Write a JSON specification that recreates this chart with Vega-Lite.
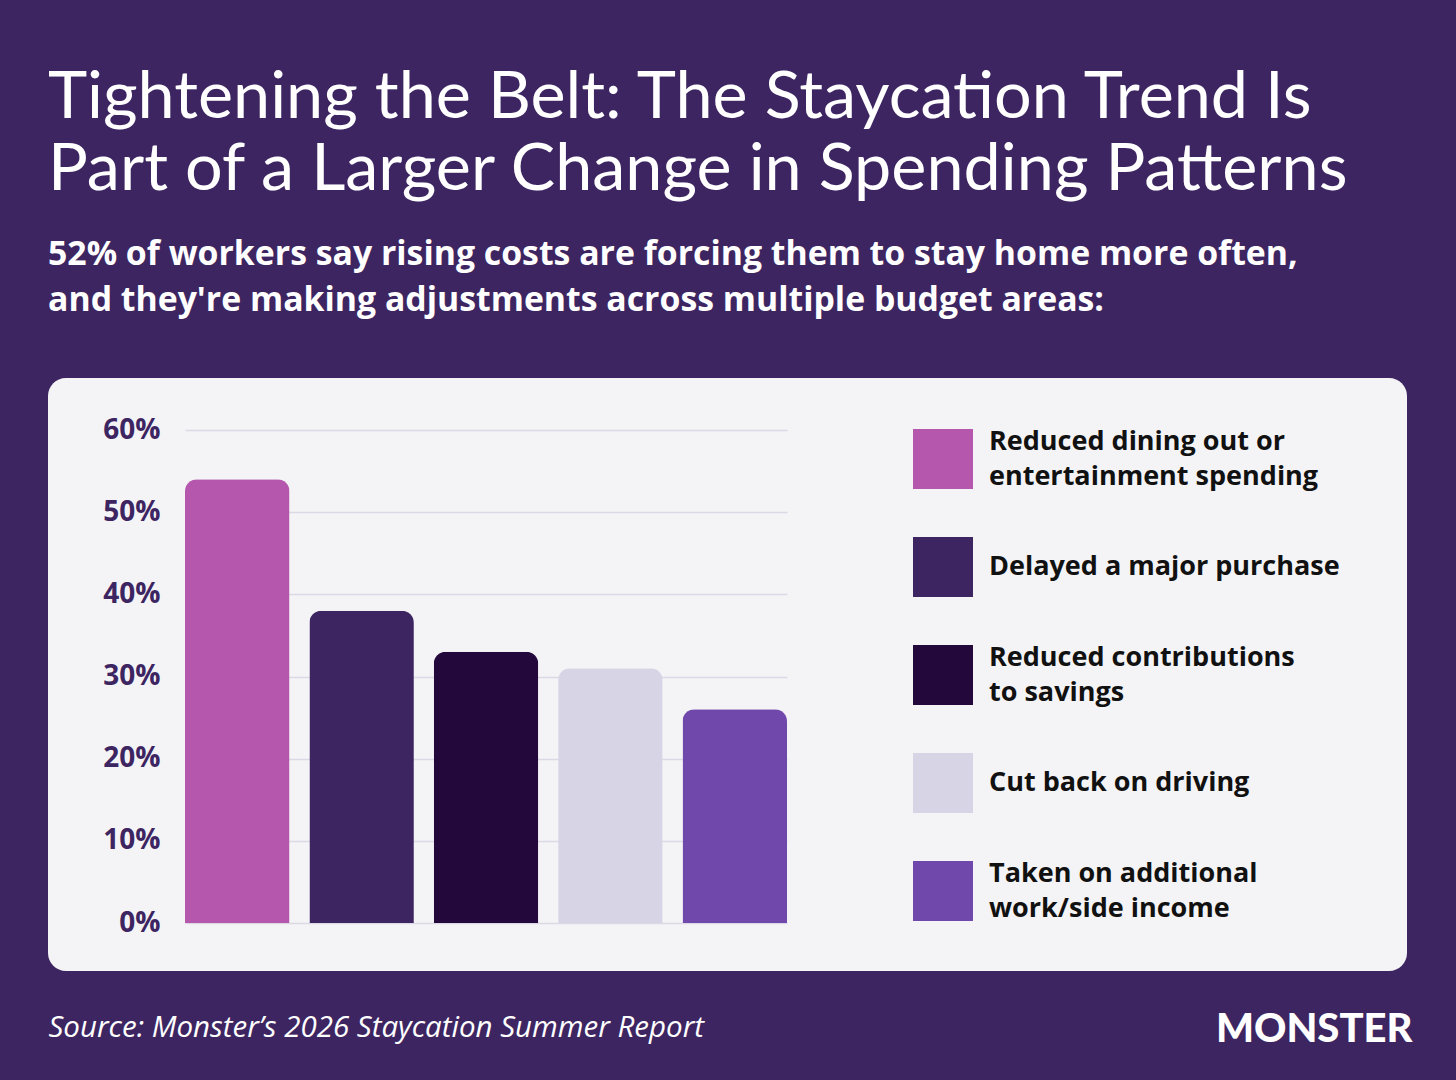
{
  "$schema": "https://vega.github.io/schema/vega-lite/v6.json",
  "width": 1359,
  "height": 593,
  "autosize": {"type": "none"},
  "padding": {"left": 48, "top": 378, "right": 49, "bottom": 109},
  "background": "#3d2562",
  "title": {
    "text": ["Tightening the Belt: The Staycation Trend Is", "Part of a Larger Change in Spending Patterns"],
    "subtitle": ["52% of workers say rising costs are forcing them to stay home more often,", "and they're making adjustments across multiple budget areas:"],
    "anchor": "start",
    "frame": "group",
    "font": "Lato",
    "fontSize": 66.5,
    "fontWeight": 400,
    "color": "#ffffff",
    "lineHeight": 72,
    "subtitleFont": "Open Sans",
    "subtitleFontSize": 33.8,
    "subtitleFontWeight": 700,
    "subtitleColor": "#ffffff",
    "subtitleLineHeight": 46,
    "subtitlePadding": 35,
    "offset": 60
  },
  "config": {
    "view": {"fill": "#f4f4f6", "stroke": null, "cornerRadius": 18},
    "style": {"guide-label": {"lineHeight": 35}}
  },
  "data": {
    "values": [
      {"category": "Reduced dining out or entertainment spending", "rank": 1, "share": 54},
      {"category": "Delayed a major purchase", "rank": 2, "share": 38},
      {"category": "Reduced contributions to savings", "rank": 3, "share": 33},
      {"category": "Cut back on driving", "rank": 4, "share": 31},
      {"category": "Taken on additional work/side income", "rank": 5, "share": 26}
    ]
  },
  "mark": {"type": "bar", "cornerRadiusTopLeft": 12, "cornerRadiusTopRight": 12},
  "encoding": {
    "x": {
      "field": "category",
      "type": "nominal",
      "sort": {"field": "rank"},
      "scale": {"range": [137, 739], "paddingInner": 0.16, "paddingOuter": 0},
      "axis": {
        "labels": false,
        "ticks": false,
        "domain": false,
        "grid": false,
        "title": "Source: Monster’s 2026 Staycation Summer Report",
        "titleFont": "Open Sans",
        "titleFontStyle": "italic",
        "titleFontWeight": 400,
        "titleFontSize": 29.5,
        "titleColor": "#ffffff",
        "titleAlign": "left",
        "titleAnchor": "start",
        "titleBaseline": "alphabetic",
        "titleX": 0,
        "titleY": 65
      }
    },
    "y": {
      "field": "share",
      "type": "quantitative",
      "scale": {"domain": [0, 60], "range": [545, 52], "nice": false},
      "axis": {
        "values": [0, 10, 20, 30, 40, 50, 60],
        "labelExpr": "datum.value + '%'",
        "offset": -137,
        "domain": false,
        "ticks": false,
        "tickSize": 0,
        "labelPadding": 25,
        "labelFont": "Open Sans",
        "labelFontWeight": 700,
        "labelFontSize": 28,
        "labelColor": "#3d2562",
        "gridColor": "#dcd8e6",
        "gridWidth": 1.5,
        "title": "MONSTER",
        "titleFont": "Lato",
        "titleFontWeight": 900,
        "titleFontSize": 40,
        "titleColor": "#ffffff",
        "titleAngle": 0,
        "titleAlign": "right",
        "titleBaseline": "alphabetic",
        "titleX": 1227,
        "titleY": 663
      }
    },
    "color": {
      "field": "category",
      "type": "nominal",
      "sort": {"field": "rank"},
      "scale": {
        "domain": ["Reduced dining out or entertainment spending", "Delayed a major purchase", "Reduced contributions to savings", "Cut back on driving", "Taken on additional work/side income"],
        "range": ["#b457ad", "#3d2562", "#23093b", "#d7d4e6", "#7048ac"]
      },
      "legend": {
        "orient": "none",
        "legendX": 865,
        "legendY": 51,
        "title": null,
        "padding": 0,
        "gridAlign": "all",
        "symbolType": "square",
        "symbolSize": 3600,
        "symbolStrokeWidth": 0,
        "symbolOpacity": 1,
        "labelOffset": 16,
        "labelFont": "Open Sans",
        "labelFontWeight": 700,
        "labelFontSize": 27,
        "labelColor": "#111111",
        "labelLimit": 0,
        "rowPadding": 45,
        "labelExpr": "datum.label == 'Reduced dining out or entertainment spending' ? ['Reduced dining out or', 'entertainment spending'] : datum.label == 'Reduced contributions to savings' ? ['Reduced contributions', 'to savings'] : datum.label == 'Taken on additional work/side income' ? ['Taken on additional', 'work/side income'] : datum.label",
        "encode": {
          "labels": {
            "update": {
              "dy": {"signal": "indexof(['Reduced dining out or entertainment spending', 'Reduced contributions to savings', 'Taken on additional work/side income'], datum.value) >= 0 ? -17.5 : 0"}
            }
          }
        }
      }
    }
  }
}
